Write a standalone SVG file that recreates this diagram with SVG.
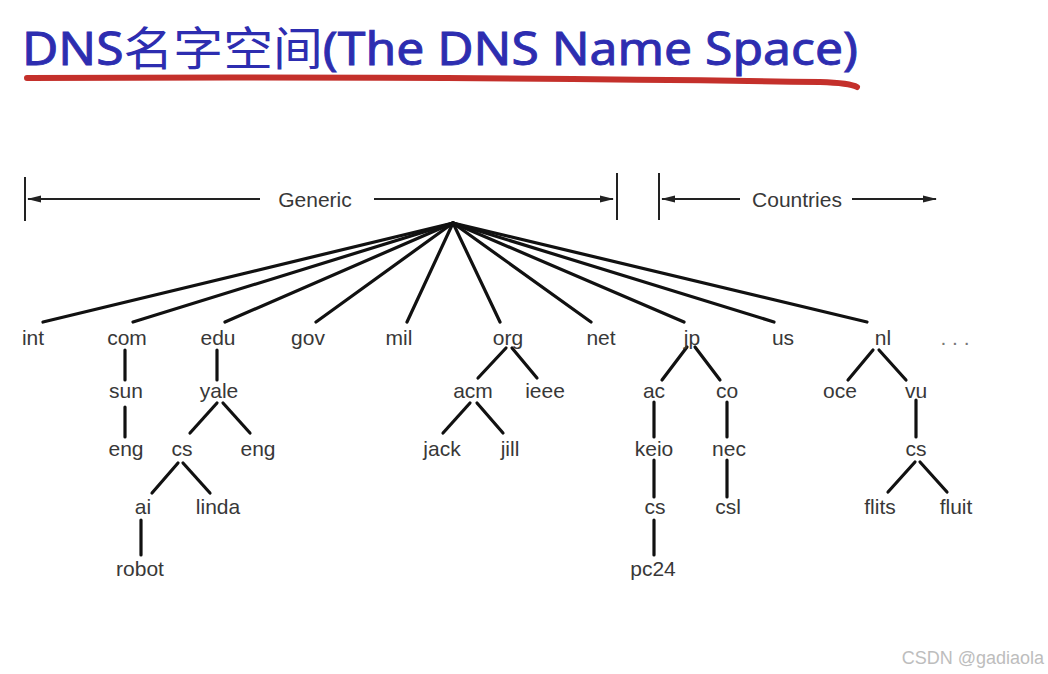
<svg xmlns="http://www.w3.org/2000/svg" width="1048" height="674" viewBox="0 0 1048 674">
<defs>
<marker id="ah" viewBox="0 0 14 8" refX="13" refY="4" markerWidth="14" markerHeight="8" markerUnits="userSpaceOnUse" orient="auto-start-reverse">
<path d="M0,0.5 L14,4 L0,7.5 Z" fill="#222"/>
</marker>
<style>
.lbl{font-family:"Liberation Sans",Arial,sans-serif;font-size:21px;fill:#383838;text-anchor:middle}
.edge{stroke:#111;stroke-width:3.2;stroke-linecap:round;fill:none}
.scl{stroke:#222;stroke-width:2;fill:none}
.lat{stroke:#2d2db0;stroke-width:0.9}
</style>
</defs>
<rect width="1048" height="674" fill="#fff"/>
<g id="title">
<text x="22" y="65" font-family="'Noto Sans','Noto Sans CJK SC',sans-serif" font-size="46" fill="#2d2db0" textLength="836" lengthAdjust="spacingAndGlyphs"><tspan class="lat">DNS</tspan>名字空间<tspan class="lat">(The DNS Name Space)</tspan></text>
<path d="M27,78 Q440,76 820,82 Q850,83 857,87" stroke="#c4302b" stroke-width="6" stroke-linecap="round" fill="none"/>
</g>
<g id="scale">
<line class="scl" x1="25" y1="177" x2="25" y2="221"/>
<line class="scl" x1="260" y1="199" x2="28" y2="199" marker-end="url(#ah)"/>
<text class="lbl" x="315" y="207">Generic</text>
<line class="scl" x1="374" y1="199" x2="613" y2="199" marker-end="url(#ah)"/>
<line class="scl" x1="617" y1="173" x2="617" y2="220"/>
<line class="scl" x1="659" y1="173" x2="659" y2="220"/>
<line class="scl" x1="740" y1="199" x2="662" y2="199" marker-end="url(#ah)"/>
<text class="lbl" x="797" y="207">Countries</text>
<line class="scl" x1="852" y1="199" x2="936" y2="199" marker-end="url(#ah)"/>
</g>
<g id="connectors">
<line class="edge" x1="453" y1="223" x2="43" y2="322"/>
<line class="edge" x1="453" y1="223" x2="133" y2="322"/>
<line class="edge" x1="453" y1="223" x2="225" y2="322"/>
<line class="edge" x1="453" y1="223" x2="316" y2="322"/>
<line class="edge" x1="453" y1="223" x2="407" y2="322"/>
<line class="edge" x1="453" y1="223" x2="500" y2="322"/>
<line class="edge" x1="453" y1="223" x2="591" y2="322"/>
<line class="edge" x1="453" y1="223" x2="684" y2="322"/>
<line class="edge" x1="453" y1="223" x2="774" y2="322"/>
<line class="edge" x1="453" y1="223" x2="867" y2="322"/>
<line class="edge" x1="125" y1="350" x2="125" y2="380"/>
<line class="edge" x1="125" y1="407" x2="125" y2="437"/>
<line class="edge" x1="217" y1="350" x2="217" y2="380"/>
<line class="edge" x1="217" y1="403" x2="190" y2="433"/>
<line class="edge" x1="223" y1="403" x2="250" y2="433"/>
<line class="edge" x1="178" y1="463" x2="152" y2="493"/>
<line class="edge" x1="183" y1="463" x2="210" y2="493"/>
<line class="edge" x1="141" y1="520" x2="141" y2="555"/>
<line class="edge" x1="506" y1="348" x2="478" y2="378"/>
<line class="edge" x1="512" y1="348" x2="537" y2="378"/>
<line class="edge" x1="470" y1="403" x2="443" y2="433"/>
<line class="edge" x1="477" y1="403" x2="503" y2="433"/>
<line class="edge" x1="687" y1="347" x2="662" y2="380"/>
<line class="edge" x1="695" y1="347" x2="720" y2="380"/>
<line class="edge" x1="654" y1="402" x2="654" y2="437"/>
<line class="edge" x1="727" y1="402" x2="727" y2="437"/>
<line class="edge" x1="654" y1="460" x2="654" y2="497"/>
<line class="edge" x1="727" y1="460" x2="727" y2="497"/>
<line class="edge" x1="654" y1="520" x2="654" y2="555"/>
<line class="edge" x1="873" y1="350" x2="848" y2="380"/>
<line class="edge" x1="879" y1="350" x2="906" y2="380"/>
<line class="edge" x1="916" y1="400" x2="916" y2="437"/>
<line class="edge" x1="915" y1="462" x2="888" y2="492"/>
<line class="edge" x1="920" y1="462" x2="947" y2="492"/>
</g>
<g id="n-int"><text class="lbl" x="33" y="345">int</text></g>
<g id="n-com"><text class="lbl" x="127" y="345">com</text></g>
<g id="n-edu"><text class="lbl" x="218" y="345">edu</text></g>
<g id="n-gov"><text class="lbl" x="308" y="345">gov</text></g>
<g id="n-mil"><text class="lbl" x="399" y="345">mil</text></g>
<g id="n-org"><text class="lbl" x="508" y="345">org</text></g>
<g id="n-net"><text class="lbl" x="601" y="345">net</text></g>
<g id="n-jp"><text class="lbl" x="692" y="345">jp</text></g>
<g id="n-us"><text class="lbl" x="783" y="345">us</text></g>
<g id="n-nl"><text class="lbl" x="883" y="345">nl</text></g>
<g id="n-more"><text class="lbl" x="955" y="345" style="fill:#777">. . .</text></g>
<g id="n-sun"><text class="lbl" x="126" y="398">sun</text></g>
<g id="n-yale"><text class="lbl" x="219" y="398">yale</text></g>
<g id="n-acm"><text class="lbl" x="473" y="398">acm</text></g>
<g id="n-ieee"><text class="lbl" x="545" y="398">ieee</text></g>
<g id="n-ac"><text class="lbl" x="654" y="398">ac</text></g>
<g id="n-co"><text class="lbl" x="727" y="398">co</text></g>
<g id="n-oce"><text class="lbl" x="840" y="398">oce</text></g>
<g id="n-vu"><text class="lbl" x="916" y="398">vu</text></g>
<g id="n-sun-eng"><text class="lbl" x="126" y="456">eng</text></g>
<g id="n-yale-cs"><text class="lbl" x="182" y="456">cs</text></g>
<g id="n-yale-eng"><text class="lbl" x="258" y="456">eng</text></g>
<g id="n-jack"><text class="lbl" x="442" y="456">jack</text></g>
<g id="n-jill"><text class="lbl" x="510" y="456">jill</text></g>
<g id="n-keio"><text class="lbl" x="654" y="456">keio</text></g>
<g id="n-nec"><text class="lbl" x="729" y="456">nec</text></g>
<g id="n-vu-cs"><text class="lbl" x="916" y="456">cs</text></g>
<g id="n-ai"><text class="lbl" x="143" y="514">ai</text></g>
<g id="n-linda"><text class="lbl" x="218" y="514">linda</text></g>
<g id="n-keio-cs"><text class="lbl" x="655" y="514">cs</text></g>
<g id="n-csl"><text class="lbl" x="728" y="514">csl</text></g>
<g id="n-flits"><text class="lbl" x="880" y="514">flits</text></g>
<g id="n-fluit"><text class="lbl" x="956" y="514">fluit</text></g>
<g id="n-robot"><text class="lbl" x="140" y="576">robot</text></g>
<g id="n-pc24"><text class="lbl" x="653" y="576">pc24</text></g>
<g id="watermark"><text x="1044" y="664" font-family="'Liberation Sans',Arial,sans-serif" font-size="18" fill="#bdbdbd" text-anchor="end">CSDN @gadiaola</text></g>
</svg>
